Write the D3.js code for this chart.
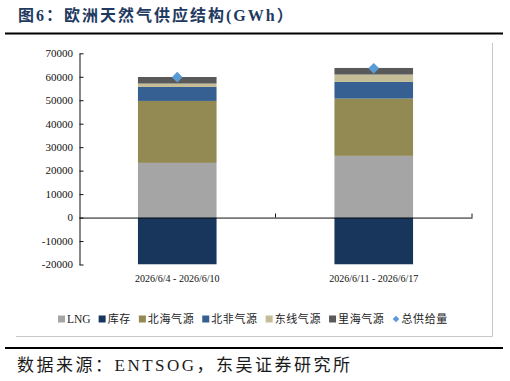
<!DOCTYPE html>
<html lang="zh">
<head>
<meta charset="UTF-8">
<title>欧洲天然气供应结构</title>
<script src="https://cdn.jsdelivr.net/npm/d3@7"></script>
<style>
  body { margin: 0; background: #fff; }
  svg { display: block; }
  text { font-family: "Liberation Serif", "Noto Sans CJK SC", serif; }
</style>
</head>
<body>
<svg id="chart"></svg>
<script>
// 数据
var categories = ["2026/6/4 - 2026/6/10", "2026/6/11 - 2026/6/17"];
var lng        = [23300, 26300];
var storage    = [-19900, -19900];
var northSea   = [26400, 24400];
var northAfr   = [5950, 7100];
var eastLine   = [1450, 3150];
var caspian    = [2800, 2800];
var total      = [59800, 63600];
var yTicks     = [-20000, -10000, 0, 10000, 20000, 30000, 40000, 50000, 60000, 70000];

var seriesNames  = ["LNG", "库存", "北海气源", "北非气源", "东线气源", "里海气源"];
var seriesValues = [lng, storage, northSea, northAfr, eastLine, caspian];
var seriesColors = ["#a5a5a5", "#18355c", "#938953", "#376092", "#c4bd97", "#595959"];
var totalName = "总供给量";
var totalColor = "#5b9bd5";

var W = 510, H = 381;
var svg = d3.select("#chart").attr("width", W).attr("height", H);

// 标题
svg.append("text")
    .attr("x", 18).attr("y", 21)
    .attr("font-size", "16px").attr("font-weight", "700")
    .attr("letter-spacing", "2px")
    .attr("fill", "#1f3a60")
    .text("图6：欧洲天然气供应结构(GWh）");
svg.append("line").attr("x1", 5).attr("x2", 503).attr("y1", 33.5).attr("y2", 33.5)
    .attr("stroke", "#000").attr("stroke-width", 2);

// 图框 (只显示右、下边)
svg.append("path").attr("d", "M16,336.5 H492.5 V43")
    .attr("fill", "none").attr("stroke", "#c8c8c8").attr("stroke-width", 1);

// 比例尺
var x = d3.scaleBand().domain(categories).range([79, 472]).padding(0);
var y = d3.scaleLinear().domain([-20000, 70000]).range([264.5, 53.3]);
var barW = x.bandwidth() * 0.4;

// 堆叠柱
var g = svg.append("g");
categories.forEach(function (c, i) {
    var pos = 0, neg = 0;
    seriesValues.forEach(function (vals, s) {
        var v = vals[i], y0, y1;
        if (v >= 0) { y0 = pos; y1 = pos + v; pos = y1; }
        else { y0 = neg + v; y1 = neg; neg = y0; }
        g.append("rect")
            .attr("x", x(c) + (x.bandwidth() - barW) / 2)
            .attr("y", y(y1))
            .attr("width", barW)
            .attr("height", y(y0) - y(y1))
            .attr("fill", seriesColors[s]);
    });
});

// x轴
svg.append("g")
    .attr("transform", "translate(0," + y(0) + ")")
    .call(d3.axisBottom(x).tickSize(0).tickFormat(""))
    .call(function (a) { a.select(".domain").attr("stroke", "#111"); });
svg.append("g").selectAll("line")
    .data(categories)
    .enter().append("line")
    .attr("x1", function (d) { return x(d) + x.bandwidth(); })
    .attr("x2", function (d) { return x(d) + x.bandwidth(); })
    .attr("y1", y(0)).attr("y2", y(0) - 4)
    .attr("stroke", "#111");

// x轴标签
svg.append("g").selectAll("text")
    .data(categories)
    .enter().append("text")
    .attr("x", function (d) { return x(d) + x.bandwidth() / 2; })
    .attr("y", 282)
    .attr("text-anchor", "middle")
    .attr("font-size", "10px")
    .attr("fill", "#111")
    .text(function (d) { return d; });

// y轴
var yAxis = svg.append("g")
    .attr("transform", "translate(79.5,0)")
    .call(d3.axisRight(y).tickValues(yTicks).tickSize(4).tickSizeOuter(0).tickFormat(""));
yAxis.select(".domain").attr("stroke", "#111");
yAxis.selectAll(".tick line").attr("stroke", "#111");
svg.append("g").selectAll("text")
    .data(yTicks)
    .enter().append("text")
    .attr("x", 73).attr("y", function (d) { return y(d) + 3.8; })
    .attr("text-anchor", "end")
    .attr("font-size", "11px")
    .attr("fill", "#111")
    .text(function (d) { return d; });

// 总供给量
var diamond = d3.symbol().type(d3.symbolSquare).size(58);
svg.append("g").selectAll("path")
    .data(total)
    .enter().append("path")
    .attr("d", diamond)
    .attr("transform", function (d, i) {
        return "translate(" + (x(categories[i]) + x.bandwidth() / 2) + "," + y(d) + ") rotate(45)";
    })
    .attr("fill", totalColor);

// 图例
var lg = svg.append("g").attr("transform", "translate(58,319)");
var lx = 0;
seriesNames.concat([totalName]).forEach(function (name, i) {
    var item = lg.append("g").attr("transform", "translate(" + lx + ",0)");
    if (i < seriesNames.length) {
        item.append("rect").attr("x", 0).attr("y", -3.5).attr("width", 7).attr("height", 7)
            .attr("fill", seriesColors[i]);
    } else {
        item.append("path").attr("d", d3.symbol().type(d3.symbolSquare).size(22))
            .attr("transform", "translate(3.5,0) rotate(45)")
            .attr("fill", totalColor);
    }
    var t = item.append("text").attr("x", 9).attr("y", 3.8)
        .attr("font-size", i === 0 ? "11.5px" : "11px")
        .attr("letter-spacing", i === 0 ? "0px" : "0.6px")
        .attr("fill", "#222")
        .text(name);
    lx += 9 + t.node().getComputedTextLength() + 8;
});

// 数据来源
svg.append("line").attr("x1", 5).attr("x2", 503).attr("y1", 348).attr("y2", 348)
    .attr("stroke", "#000").attr("stroke-width", 2);
svg.append("text")
    .attr("x", 17).attr("y", 371)
    .attr("font-size", "17px")
    .attr("letter-spacing", "2.5px")
    .attr("fill", "#1a1a1a")
    .text("数据来源：ENTSOG，东吴证券研究所");
</script>
</body>
</html>
